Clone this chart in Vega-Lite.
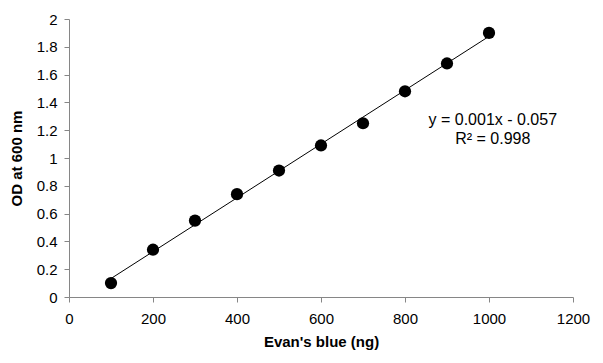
{
  "$schema": "https://vega.github.io/schema/vega-lite/v6.json",
  "autosize": "none",
  "width": 504,
  "height": 278,
  "padding": {"left": 69, "top": 19, "right": 30, "bottom": 66},
  "background": "white",
  "config": {
    "view": {"stroke": null},
    "font": "Liberation Sans",
    "axis": {
      "grid": false,
      "domainColor": "#868686",
      "tickColor": "#868686",
      "tickSize": 5,
      "labelFont": "Liberation Sans",
      "labelFontSize": 15,
      "labelColor": "#000000",
      "titleFont": "Liberation Sans",
      "titleFontSize": 15,
      "titleFontWeight": "bold",
      "titleColor": "#000000"
    }
  },
  "data": {
    "values": [
      {"ng": 100, "od": 0.10},
      {"ng": 200, "od": 0.34},
      {"ng": 300, "od": 0.55},
      {"ng": 400, "od": 0.74},
      {"ng": 500, "od": 0.91},
      {"ng": 600, "od": 1.09},
      {"ng": 700, "od": 1.25},
      {"ng": 800, "od": 1.48},
      {"ng": 900, "od": 1.68},
      {"ng": 1000, "od": 1.90}
    ]
  },
  "encoding": {
    "x": {
      "field": "ng", "type": "quantitative",
      "scale": {"domain": [0, 1200], "nice": false},
      "axis": {"values": [0, 200, 400, 600, 800, 1000, 1200], "format": "d", "labelOverlap": false, "labelFlush": false, "title": "Evan's blue (ng)", "labelPadding": 9, "titlePadding": 8}
    },
    "y": {
      "field": "od", "type": "quantitative",
      "scale": {"domain": [0, 2], "nice": false},
      "axis": {"values": [0, 0.2, 0.4, 0.6, 0.8, 1, 1.2, 1.4, 1.6, 1.8, 2], "labelOverlap": false, "labelFlush": false, "title": "OD at 600 nm", "labelPadding": 7, "titlePadding": 12, "labelExpr": "format(datum.value, '~g')"}
    }
  },
  "layer": [
    {
      "transform": [{"regression": "od", "on": "ng"}],
      "mark": {"type": "line", "color": "#000000", "strokeWidth": 1}
    },
    {
      "mark": {"type": "point", "filled": true, "color": "#000000", "opacity": 1, "size": 150}
    },
    {
      "data": {"values": [{"label": "y = 0.001x - 0.057", "lx": 1009, "ly": 1.27}, {"label": "R² = 0.998", "lx": 1009, "ly": 1.135}]},
      "mark": {"type": "text", "font": "Liberation Sans", "fontSize": 16, "color": "#000000", "align": "center", "baseline": "middle"},
      "encoding": {
        "x": {"field": "lx", "type": "quantitative"},
        "y": {"field": "ly", "type": "quantitative"},
        "text": {"field": "label"}
      }
    }
  ]
}
